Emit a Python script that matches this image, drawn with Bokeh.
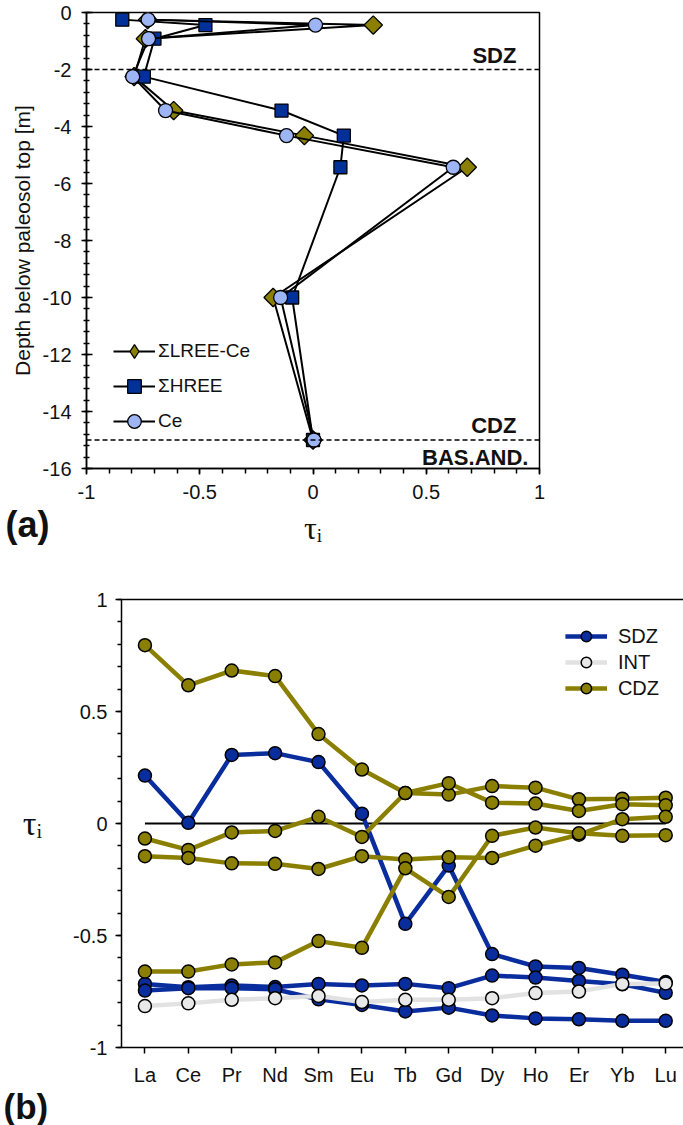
import numpy as np
from bokeh.plotting import figure
from bokeh.models import Range1d, FixedTicker, LinearAxis, Label, Legend, LegendItem, Span, Title
from bokeh.layouts import column
from bokeh.embed import file_html
from bokeh.resources import INLINE

FONT = "Liberation Sans"

# ---------------- panel (a) data ----------------
DEPTH = [-0.25, -0.44, -0.92, -2.25, -3.44, -4.32, -5.43, -10.0, -15.0]
LREE_CE = [-0.73, 0.266, -0.74, -0.79, -0.615, -0.038, 0.681, -0.176, 0.0]
HREE = [-0.842, -0.475, -0.700, -0.747, -0.139, 0.136, 0.121, -0.092, 0.0]
CE = [-0.728, 0.011, -0.726, -0.796, -0.651, -0.117, 0.619, -0.143, 0.004]
ZONE_DEPTHS = [-2, -15]
A_XTICKS = [-1, -0.5, 0, 0.5, 1]
A_YTICKS = [0, -2, -4, -6, -8, -10, -12, -14, -16]

# ---------------- panel (b) data ----------------
ELEMENTS = ["La", "Ce", "Pr", "Nd", "Sm", "Eu", "Tb", "Gd", "Dy", "Ho", "Er", "Yb", "Lu"]
SDZ_A = [0.214, 0.003, 0.306, 0.314, 0.274, 0.044, -0.448, -0.188, -0.583, -0.638, -0.645, -0.675, -0.708]
SDZ_B = [-0.716, -0.731, -0.723, -0.730, -0.716, -0.723, -0.716, -0.735, -0.679, -0.688, -0.703, -0.718, -0.756]
SDZ_C = [-0.746, -0.735, -0.735, -0.740, -0.785, -0.810, -0.839, -0.822, -0.857, -0.870, -0.874, -0.881, -0.881]
INT_A = [-0.815, -0.803, -0.787, -0.780, -0.770, -0.797, -0.787, -0.787, -0.780, -0.757, -0.750, -0.716, -0.714]
CDZ_A = [0.796, 0.617, 0.683, 0.658, 0.399, 0.241, 0.136, 0.129, 0.167, 0.160, 0.108, 0.111, 0.115]
CDZ_B = [-0.067, -0.118, -0.040, -0.033, 0.030, -0.060, 0.136, 0.180, 0.093, 0.089, 0.056, 0.086, 0.081]
CDZ_C = [-0.146, -0.154, -0.178, -0.180, -0.203, -0.146, -0.161, -0.151, -0.154, -0.099, -0.050, 0.019, 0.030]
CDZ_D = [-0.661, -0.661, -0.629, -0.620, -0.525, -0.555, -0.200, -0.328, -0.055, -0.018, -0.044, -0.055, -0.052]
B_YTICKS = [-1, -0.5, 0, 0.5, 1]

OLIVE = "#8a7f00"
NAVY = "#00309a"
LIGHTBLUE = "#9db5f5"
BLUE = "#0a2d9e"
GREY_LINE = "#e2e2e2"
GREY_FILL = "#e8e8e8"
TXT = "#111111"


def fmt(v):
    return ("%g" % v)


def style_axis(ax, size="20px"):
    ax.major_label_text_font = FONT
    ax.major_label_text_font_size = size
    ax.major_label_text_color = TXT
    ax.axis_line_color = "black"
    ax.axis_line_width = 1.5
    ax.major_tick_line_color = "black"
    ax.major_tick_line_width = 1.5
    ax.minor_tick_line_color = "black"
    ax.minor_tick_line_width = 1.5
    ax.axis_label_text_font_style = "normal"
    ax.axis_label_text_color = TXT


def no_align(p):
    try:
        p.frame_align = False
    except Exception:
        pass


# ================= panel (a) =================
p1 = figure(width=683, height=572, x_range=Range1d(-1, 1), y_range=Range1d(-16, 0),
            output_backend="svg", toolbar_location=None,
            min_border_left=86, min_border_right=144, min_border_top=12, min_border_bottom=104)
no_align(p1)
p1.grid.visible = False
p1.outline_line_color = "black"
p1.outline_line_width = 1.5
p1.background_fill_color = "white"
p1.border_fill_color = "white"

xa = p1.xaxis[0]
style_axis(xa)
xa.ticker = FixedTicker(ticks=A_XTICKS, minor_ticks=[round(v, 1) for v in np.arange(-1, 1.001, 0.1)])
xa.major_label_overrides = {v: fmt(v) for v in A_XTICKS}
xa.major_tick_in = 0
xa.major_tick_out = 6
xa.minor_tick_in = 0
xa.minor_tick_out = 5
xa.major_label_standoff = 10
xa.axis_label = "τᵢ"
xa.axis_label_text_font = "Liberation Serif"
xa.axis_label_text_font_size = "32px"
xa.axis_label_standoff = 8

ya = p1.yaxis[0]
style_axis(ya)
ya.ticker = FixedTicker(ticks=A_YTICKS, minor_ticks=[round(v, 1) for v in np.arange(-16, 0.001, 0.4)])
ya.major_label_overrides = {v: fmt(v) for v in A_YTICKS}
ya.major_tick_in = 6
ya.major_tick_out = 5
ya.minor_tick_in = 3
ya.minor_tick_out = 3
ya.major_label_standoff = 10
ya.axis_label = "Depth below paleosol top [m]"
ya.axis_label_text_font = FONT
ya.axis_label_text_font_size = "21px"
ya.axis_label_standoff = 6

for d in ZONE_DEPTHS:
    p1.add_layout(Span(location=d, dimension="width", line_color="black",
                       line_width=1.5, line_dash="5 3"))

l1 = p1.line(LREE_CE, DEPTH, line_color="black", line_width=2)
# diamond drawn underneath the rotated squares; used as the legend symbol
s1_leg = p1.scatter(LREE_CE, DEPTH, marker="diamond", size=13,
                    fill_color=OLIVE, line_color="black", line_width=1.3)
s1 = p1.scatter(LREE_CE, DEPTH, marker="square", angle=np.pi / 4, size=13,
                fill_color=OLIVE, line_color="black", line_width=1.3)
l2 = p1.line(HREE, DEPTH, line_color="black", line_width=2)
s2 = p1.scatter(HREE, DEPTH, marker="square", size=13,
                fill_color=NAVY, line_color="black", line_width=1.3)
l3 = p1.line(CE, DEPTH, line_color="black", line_width=2)
s3 = p1.scatter(CE, DEPTH, marker="circle", size=14,
                fill_color=LIGHTBLUE, line_color="black", line_width=1.3)

leg1 = Legend(items=[LegendItem(label="ΣLREE-Ce", renderers=[l1, s1_leg]),
                     LegendItem(label="ΣHREE", renderers=[l2, s2]),
                     LegendItem(label="Ce", renderers=[l3, s3])],
              location=(27, 30), glyph_width=42, glyph_height=34, label_height=20,
              label_standoff=3, spacing=1, padding=10, border_line_color=None,
              background_fill_alpha=0, label_text_font=FONT, label_text_font_size="19px",
              label_text_color=TXT)
p1.add_layout(leg1)

for txt, xx, yy in [("SDZ", 0.898, -1.51), ("CDZ", 0.898, -14.49), ("BAS.AND.", 0.951, -15.61)]:
    p1.add_layout(Label(x=xx, y=yy, text=txt, text_align="right", text_baseline="middle",
                        text_font=FONT, text_font_style="bold", text_font_size="22px",
                        text_color=TXT))

p1.add_layout(Title(text="(a)", align="left", offset=-81, standoff=-90, vertical_align="top",
                    text_font=FONT, text_font_style="bold", text_font_size="36px",
                    text_color=TXT), "below")

# ================= panel (b) =================
IDX = list(range(len(ELEMENTS)))
p2 = figure(width=683, height=553, x_range=Range1d(-0.54, 12.41), y_range=Range1d(-1, 1),
            output_backend="svg", toolbar_location=None,
            min_border_left=121, min_border_right=0, min_border_top=27, min_border_bottom=75)
no_align(p2)
p2.grid.visible = False
p2.outline_line_color = None
p2.background_fill_color = "white"
p2.border_fill_color = "white"

xb = p2.xaxis[0]
style_axis(xb)
xb.ticker = FixedTicker(ticks=IDX)
xb.major_label_overrides = {i: e for i, e in zip(IDX, ELEMENTS)}
xb.major_tick_in = 0
xb.major_tick_out = 6
xb.minor_tick_line_color = None
xb.major_label_standoff = 10

yb = p2.yaxis[0]
style_axis(yb)
yb.ticker = FixedTicker(ticks=B_YTICKS, minor_ticks=[round(v, 1) for v in np.arange(-1, 1.001, 0.1)])
yb.major_label_overrides = {v: fmt(v) for v in B_YTICKS}
yb.major_tick_in = 0
yb.major_tick_out = 6
yb.minor_tick_in = 0
yb.minor_tick_out = 4
yb.major_label_standoff = 8
yb.axis_label = "τᵢ"
yb.axis_label_text_font = "Liberation Serif"
yb.axis_label_text_font_size = "34px"
yb.axis_label_orientation = "horizontal"
yb.axis_label_standoff = 28

top_ax = LinearAxis(ticker=FixedTicker(ticks=[]), major_tick_line_color=None,
                    minor_tick_line_color=None, axis_line_color="black",
                    axis_line_width=1.5, major_label_standoff=0)
p2.add_layout(top_ax, "above")

p2.line([IDX[0], IDX[-1]], [0, 0], line_color="black", line_width=2.2)


def series(vals, lcol, fcol):
    ln = p2.line(IDX, vals, line_color=lcol, line_width=4.5)
    sc = p2.scatter(IDX, vals, marker="circle", size=13, fill_color=fcol,
                    line_color="black", line_width=1.5)
    return ln, sc


sdz = [series(v, BLUE, BLUE) for v in (SDZ_A, SDZ_B, SDZ_C)]
intr = [series(INT_A, GREY_LINE, GREY_FILL)]
cdz = [series(v, OLIVE, OLIVE) for v in (CDZ_A, CDZ_B, CDZ_C, CDZ_D)]

leg2 = Legend(items=[LegendItem(label="SDZ", renderers=list(sdz[0])),
                     LegendItem(label="INT", renderers=list(intr[0])),
                     LegendItem(label="CDZ", renderers=list(cdz[0]))],
              location="top_right", margin=24, glyph_width=42, glyph_height=26, label_height=20,
              label_standoff=11, spacing=0, padding=10, border_line_color=None,
              background_fill_alpha=0, label_text_font=FONT, label_text_font_size="20px",
              label_text_color=TXT)
p2.add_layout(leg2)

p2.add_layout(Title(text="(b)", align="left", offset=-118, standoff=-4, vertical_align="top",
                    text_font=FONT, text_font_style="bold", text_font_size="35px",
                    text_color=TXT), "below")

layout = column(p1, p2)
open("out.html", "w").write(file_html(layout, INLINE))
